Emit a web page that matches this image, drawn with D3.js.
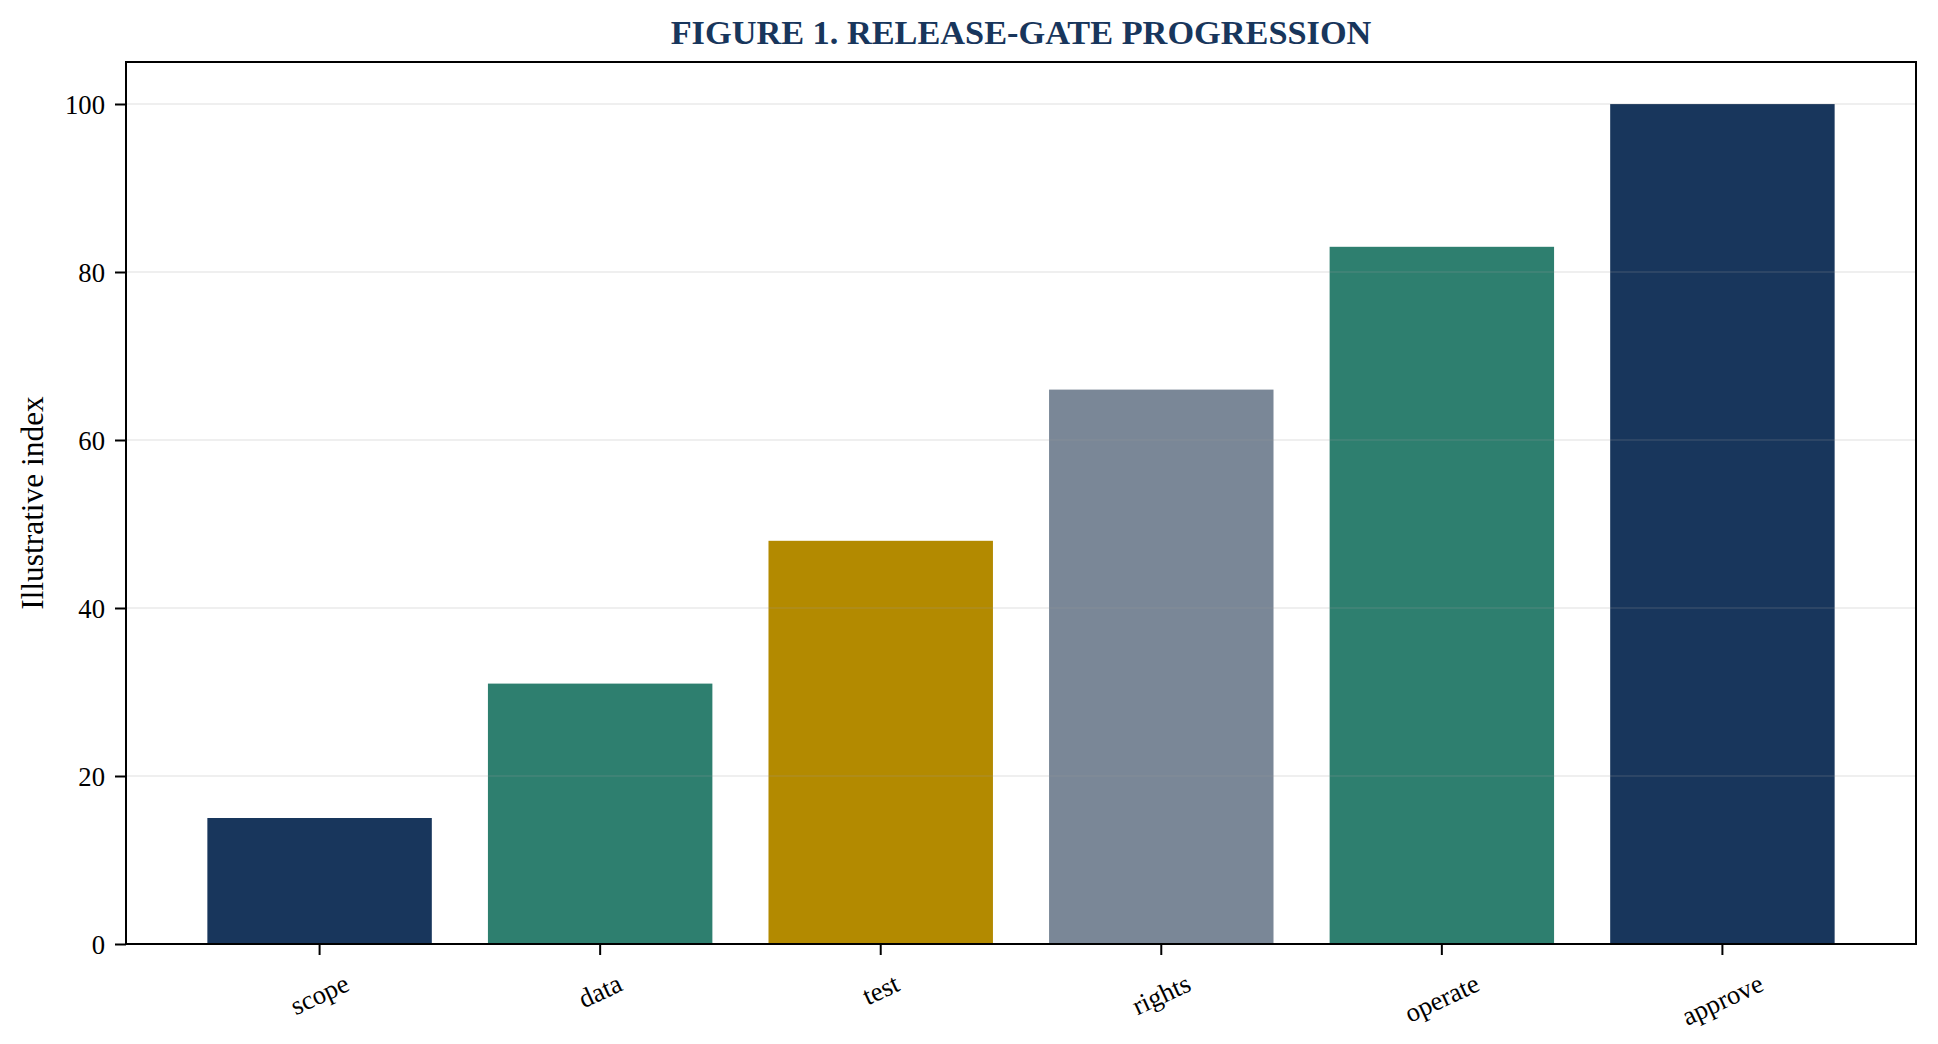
<!DOCTYPE html>
<html>
<head>
<meta charset="utf-8">
<script src="https://cdn.jsdelivr.net/npm/d3@7"></script>
<style>
  body { margin: 0; background: #fff; }
  text { font-family: "Liberation Serif", "Times New Roman", serif; }
</style>
</head>
<body>
<div id="area1"></div>
<script>
// Data
const categories = ["scope", "data", "test", "rights", "operate", "approve"];
const values = [15, 31, 48, 66, 83, 100];
const yTicks = [0, 20, 40, 60, 80, 100];

// palette, one per bar
const palette = ["#18365c", "#2e7f6f", "#b38a00", "#7a8797", "#2e7f6f", "#18365c"];

const w1 = 1938;
const h1 = 1044;
const margin = {top: 62, right: 22, bottom: 100, left: 126};

let svg1 = d3.select("#area1")
            .append("svg")
            .attr("width", w1)
            .attr("height", h1);

// Scales
let x = d3.scaleBand()
    .domain(categories)
    .range([margin.left, w1 - margin.right])
    .paddingInner(0.2)
    .paddingOuter(0.29);

let y = d3.scaleLinear()
    .domain([0, 105])
    .range([h1 - margin.bottom, margin.top]);

// Bars
svg1.selectAll("rect.bar")
    .data(values)
    .enter()
    .append("rect")
    .attr("class", "bar")
    .attr("x", (d, i) => x(categories[i]))
    .attr("y", (d) => y(d))
    .attr("width", x.bandwidth())
    .attr("height", (d) => y(0) - y(d))
    .attr("fill", (d, i) => palette[i]);

// Grid lines (drawn over the bars, faint)
svg1.append("g")
    .attr("class", "grid")
    .selectAll("line")
    .data(yTicks.filter(t => t > 0))
    .enter()
    .append("line")
    .attr("x1", margin.left)
    .attr("x2", w1 - margin.right)
    .attr("y1", (d) => y(d))
    .attr("y2", (d) => y(d))
    .attr("stroke", "#999")
    .attr("stroke-opacity", 0.16)
    .attr("stroke-width", 2);

// Y axis
let yAxis = svg1.append("g")
    .attr("transform", "translate(" + margin.left + ",0)")
    .call(d3.axisLeft(y).tickValues(yTicks).tickSize(11).tickPadding(10));
yAxis.select(".domain").remove();
yAxis.selectAll(".tick line").attr("stroke", "#000").attr("stroke-width", 2);
yAxis.selectAll(".tick text")
    .attr("fill", "#000")
    .style("font-size", "26.7px")
    .attr("dy", "0.34em");

// X axis
let xAxis = svg1.append("g")
    .attr("transform", "translate(0," + (h1 - margin.bottom) + ")")
    .call(d3.axisBottom(x).tickSize(11).tickPadding(0));
xAxis.select(".domain").remove();
xAxis.selectAll(".tick line").attr("stroke", "#000").attr("stroke-width", 2);

// rotated tick labels: centred under the tick, top of rotated box just under it
const angle = 25;
xAxis.selectAll(".tick text")
    .attr("fill", "#000")
    .style("font-size", "26.7px")
    .attr("text-anchor", "middle")
    .attr("dominant-baseline", "central")
    .attr("y", 0)
    .attr("dy", 0)
    .each(function() {
        let bb = this.getBBox();
        let rad = angle * Math.PI / 180;
        let hRot = bb.width * Math.sin(rad) + bb.height * Math.cos(rad);
        let cy = 11 + 13 + hRot / 2;
        d3.select(this)
            .attr("y", cy)
            .attr("transform", "rotate(" + (-angle) + ",0," + cy + ")");
    });

// Frame around the plot
svg1.append("rect")
    .attr("x", margin.left)
    .attr("y", margin.top)
    .attr("width", w1 - margin.left - margin.right)
    .attr("height", h1 - margin.top - margin.bottom)
    .attr("fill", "none")
    .attr("stroke", "#000")
    .attr("stroke-width", 2);

// Title
svg1.append("text")
    .attr("x", (margin.left + w1 - margin.right) / 2)
    .attr("y", 44)
    .attr("text-anchor", "middle")
    .attr("fill", "#18365c")
    .style("font-size", "34.3px")
    .style("font-weight", "bold")
    .text("FIGURE 1. RELEASE-GATE PROGRESSION");

// Y label
svg1.append("text")
    .attr("transform", "translate(43," + ((margin.top + h1 - margin.bottom) / 2) + ") rotate(-90)")
    .attr("text-anchor", "middle")
    .attr("fill", "#000")
    .style("font-size", "31.4px")
    .text("Illustrative index");
</script>
</body>
</html>
